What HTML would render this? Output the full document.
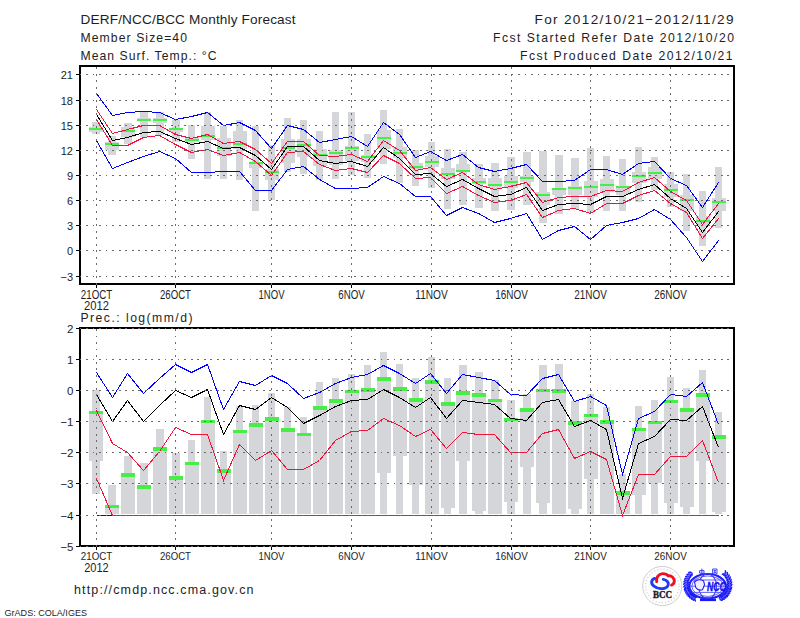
<!DOCTYPE html>
<html><head><meta charset="utf-8"><title>DERF/NCC/BCC Monthly Forecast</title>
<style>html,body{margin:0;padding:0;background:#fff;}svg{display:block;}</style>
</head><body>
<svg width="800" height="618" viewBox="0 0 800 618">
<rect width="800" height="618" fill="#fff"/>
<g shape-rendering="crispEdges">
<rect x="92" y="122" width="8" height="12" fill="#d5d6da"/>
<rect x="89" y="127" width="14" height="5" fill="#d5d6da"/>
<rect x="108" y="136" width="8" height="19" fill="#d5d6da"/>
<rect x="105" y="142" width="14" height="8" fill="#d5d6da"/>
<rect x="124" y="123" width="8" height="21" fill="#d5d6da"/>
<rect x="121" y="127" width="14" height="10" fill="#d5d6da"/>
<rect x="140" y="111" width="8" height="26" fill="#d5d6da"/>
<rect x="137" y="118" width="14" height="3" fill="#d5d6da"/>
<rect x="156" y="112" width="8" height="23" fill="#d5d6da"/>
<rect x="153" y="118" width="14" height="5" fill="#d5d6da"/>
<rect x="172" y="120" width="8" height="22" fill="#d5d6da"/>
<rect x="169" y="129" width="14" height="3" fill="#d5d6da"/>
<rect x="188" y="125" width="7" height="34" fill="#d5d6da"/>
<rect x="185" y="137" width="14" height="5" fill="#d5d6da"/>
<rect x="204" y="112" width="7" height="67" fill="#d5d6da"/>
<rect x="201" y="126" width="14" height="14" fill="#d5d6da"/>
<rect x="220" y="126" width="7" height="53" fill="#d5d6da"/>
<rect x="217" y="138" width="14" height="18" fill="#d5d6da"/>
<rect x="236" y="120" width="7" height="60" fill="#d5d6da"/>
<rect x="233" y="131" width="14" height="18" fill="#d5d6da"/>
<rect x="252" y="126" width="7" height="85" fill="#d5d6da"/>
<rect x="249" y="162" width="14" height="6" fill="#d5d6da"/>
<rect x="268" y="145" width="7" height="55" fill="#d5d6da"/>
<rect x="265" y="169" width="14" height="11" fill="#d5d6da"/>
<rect x="284" y="118" width="7" height="54" fill="#d5d6da"/>
<rect x="281" y="139" width="14" height="24" fill="#d5d6da"/>
<rect x="300" y="120" width="7" height="54" fill="#d5d6da"/>
<rect x="297" y="139" width="14" height="18" fill="#d5d6da"/>
<rect x="316" y="131" width="7" height="49" fill="#d5d6da"/>
<rect x="313" y="149" width="14" height="17" fill="#d5d6da"/>
<rect x="332" y="112" width="7" height="67" fill="#d5d6da"/>
<rect x="329" y="150" width="14" height="15" fill="#d5d6da"/>
<rect x="348" y="112" width="7" height="63" fill="#d5d6da"/>
<rect x="345" y="146" width="14" height="15" fill="#d5d6da"/>
<rect x="364" y="134" width="7" height="44" fill="#d5d6da"/>
<rect x="361" y="155" width="14" height="7" fill="#d5d6da"/>
<rect x="380" y="110" width="7" height="54" fill="#d5d6da"/>
<rect x="377" y="130" width="14" height="19" fill="#d5d6da"/>
<rect x="396" y="129" width="7" height="54" fill="#d5d6da"/>
<rect x="393" y="147" width="14" height="11" fill="#d5d6da"/>
<rect x="412" y="150" width="7" height="36" fill="#d5d6da"/>
<rect x="409" y="163" width="14" height="6" fill="#d5d6da"/>
<rect x="428" y="142" width="7" height="46" fill="#d5d6da"/>
<rect x="425" y="156" width="14" height="11" fill="#d5d6da"/>
<rect x="444" y="149" width="7" height="60" fill="#d5d6da"/>
<rect x="441" y="168" width="14" height="11" fill="#d5d6da"/>
<rect x="459" y="152" width="8" height="53" fill="#d5d6da"/>
<rect x="456" y="164" width="14" height="8" fill="#d5d6da"/>
<rect x="475" y="164" width="8" height="44" fill="#d5d6da"/>
<rect x="472" y="178" width="14" height="6" fill="#d5d6da"/>
<rect x="491" y="163" width="8" height="48" fill="#d5d6da"/>
<rect x="488" y="178" width="14" height="10" fill="#d5d6da"/>
<rect x="507" y="157" width="8" height="53" fill="#d5d6da"/>
<rect x="504" y="176" width="14" height="12" fill="#d5d6da"/>
<rect x="523" y="152" width="8" height="53" fill="#d5d6da"/>
<rect x="520" y="176" width="14" height="6" fill="#d5d6da"/>
<rect x="539" y="151" width="8" height="72" fill="#d5d6da"/>
<rect x="536" y="192" width="14" height="13" fill="#d5d6da"/>
<rect x="555" y="155" width="8" height="59" fill="#d5d6da"/>
<rect x="552" y="188" width="14" height="7" fill="#d5d6da"/>
<rect x="571" y="158" width="8" height="51" fill="#d5d6da"/>
<rect x="568" y="186" width="14" height="9" fill="#d5d6da"/>
<rect x="587" y="148" width="7" height="65" fill="#d5d6da"/>
<rect x="584" y="181" width="14" height="16" fill="#d5d6da"/>
<rect x="603" y="156" width="7" height="55" fill="#d5d6da"/>
<rect x="600" y="179" width="14" height="13" fill="#d5d6da"/>
<rect x="619" y="159" width="7" height="52" fill="#d5d6da"/>
<rect x="616" y="186" width="14" height="9" fill="#d5d6da"/>
<rect x="635" y="147" width="7" height="55" fill="#d5d6da"/>
<rect x="632" y="172" width="14" height="11" fill="#d5d6da"/>
<rect x="651" y="157" width="7" height="33" fill="#d5d6da"/>
<rect x="648" y="167" width="14" height="12" fill="#d5d6da"/>
<rect x="667" y="172" width="7" height="35" fill="#d5d6da"/>
<rect x="664" y="184" width="14" height="13" fill="#d5d6da"/>
<rect x="683" y="174" width="7" height="57" fill="#d5d6da"/>
<rect x="680" y="195" width="14" height="16" fill="#d5d6da"/>
<rect x="699" y="191" width="7" height="55" fill="#d5d6da"/>
<rect x="696" y="216" width="14" height="10" fill="#d5d6da"/>
<rect x="715" y="167" width="7" height="61" fill="#d5d6da"/>
<rect x="712" y="198" width="14" height="13" fill="#d5d6da"/>
<rect x="89" y="128" width="14" height="2" fill="#46ee46"/>
<rect x="105" y="143" width="14" height="2" fill="#46ee46"/>
<rect x="121" y="130" width="14" height="2" fill="#46ee46"/>
<rect x="137" y="119" width="14" height="2" fill="#46ee46"/>
<rect x="153" y="119" width="14" height="2" fill="#46ee46"/>
<rect x="169" y="128" width="14" height="2" fill="#46ee46"/>
<rect x="185" y="139" width="14" height="2" fill="#46ee46"/>
<rect x="201" y="135" width="14" height="2" fill="#46ee46"/>
<rect x="217" y="147" width="14" height="2" fill="#46ee46"/>
<rect x="233" y="143" width="14" height="2" fill="#46ee46"/>
<rect x="249" y="162" width="14" height="2" fill="#46ee46"/>
<rect x="265" y="171" width="14" height="2" fill="#46ee46"/>
<rect x="281" y="147" width="14" height="2" fill="#46ee46"/>
<rect x="297" y="144" width="14" height="2" fill="#46ee46"/>
<rect x="313" y="154" width="14" height="2" fill="#46ee46"/>
<rect x="329" y="152" width="14" height="2" fill="#46ee46"/>
<rect x="345" y="147" width="14" height="2" fill="#46ee46"/>
<rect x="361" y="156" width="14" height="2" fill="#46ee46"/>
<rect x="377" y="137" width="14" height="2" fill="#46ee46"/>
<rect x="393" y="152" width="14" height="2" fill="#46ee46"/>
<rect x="409" y="166" width="14" height="2" fill="#46ee46"/>
<rect x="425" y="161" width="14" height="2" fill="#46ee46"/>
<rect x="441" y="173" width="14" height="2" fill="#46ee46"/>
<rect x="456" y="170" width="14" height="2" fill="#46ee46"/>
<rect x="472" y="181" width="14" height="2" fill="#46ee46"/>
<rect x="488" y="184" width="14" height="2" fill="#46ee46"/>
<rect x="504" y="181" width="14" height="2" fill="#46ee46"/>
<rect x="520" y="177" width="14" height="2" fill="#46ee46"/>
<rect x="536" y="194" width="14" height="2" fill="#46ee46"/>
<rect x="552" y="188" width="14" height="2" fill="#46ee46"/>
<rect x="568" y="187" width="14" height="2" fill="#46ee46"/>
<rect x="584" y="186" width="14" height="2" fill="#46ee46"/>
<rect x="600" y="184" width="14" height="2" fill="#46ee46"/>
<rect x="616" y="186" width="14" height="2" fill="#46ee46"/>
<rect x="632" y="175" width="14" height="2" fill="#46ee46"/>
<rect x="648" y="172" width="14" height="2" fill="#46ee46"/>
<rect x="664" y="189" width="14" height="2" fill="#46ee46"/>
<rect x="680" y="199" width="14" height="2" fill="#46ee46"/>
<rect x="696" y="220" width="14" height="2" fill="#46ee46"/>
<rect x="712" y="201" width="14" height="2" fill="#46ee46"/>
<rect x="92" y="390" width="8" height="104" fill="#d5d6da"/>
<rect x="89" y="411" width="14" height="50" fill="#d5d6da"/>
<rect x="108" y="485" width="8" height="29" fill="#d5d6da"/>
<rect x="105" y="505" width="14" height="9" fill="#d5d6da"/>
<rect x="124" y="456" width="8" height="58" fill="#d5d6da"/>
<rect x="121" y="473" width="14" height="41" fill="#d5d6da"/>
<rect x="140" y="463" width="8" height="51" fill="#d5d6da"/>
<rect x="137" y="485" width="14" height="29" fill="#d5d6da"/>
<rect x="156" y="429" width="8" height="85" fill="#d5d6da"/>
<rect x="153" y="447" width="14" height="67" fill="#d5d6da"/>
<rect x="172" y="453" width="8" height="61" fill="#d5d6da"/>
<rect x="169" y="476" width="14" height="38" fill="#d5d6da"/>
<rect x="188" y="440" width="7" height="74" fill="#d5d6da"/>
<rect x="185" y="462" width="14" height="52" fill="#d5d6da"/>
<rect x="204" y="397" width="7" height="117" fill="#d5d6da"/>
<rect x="201" y="420" width="14" height="94" fill="#d5d6da"/>
<rect x="220" y="451" width="7" height="63" fill="#d5d6da"/>
<rect x="217" y="469" width="14" height="45" fill="#d5d6da"/>
<rect x="236" y="406" width="7" height="108" fill="#d5d6da"/>
<rect x="233" y="430" width="14" height="84" fill="#d5d6da"/>
<rect x="252" y="405" width="7" height="109" fill="#d5d6da"/>
<rect x="249" y="423" width="14" height="91" fill="#d5d6da"/>
<rect x="268" y="393" width="7" height="121" fill="#d5d6da"/>
<rect x="265" y="417" width="14" height="97" fill="#d5d6da"/>
<rect x="284" y="407" width="7" height="107" fill="#d5d6da"/>
<rect x="281" y="428" width="14" height="86" fill="#d5d6da"/>
<rect x="300" y="417" width="7" height="97" fill="#d5d6da"/>
<rect x="297" y="433" width="14" height="81" fill="#d5d6da"/>
<rect x="316" y="382" width="7" height="132" fill="#d5d6da"/>
<rect x="313" y="406" width="14" height="108" fill="#d5d6da"/>
<rect x="332" y="378" width="7" height="136" fill="#d5d6da"/>
<rect x="329" y="399" width="14" height="115" fill="#d5d6da"/>
<rect x="348" y="374" width="7" height="140" fill="#d5d6da"/>
<rect x="345" y="390" width="14" height="124" fill="#d5d6da"/>
<rect x="364" y="365" width="7" height="149" fill="#d5d6da"/>
<rect x="361" y="388" width="14" height="126" fill="#d5d6da"/>
<rect x="380" y="352" width="7" height="162" fill="#d5d6da"/>
<rect x="377" y="377" width="14" height="96" fill="#d5d6da"/>
<rect x="396" y="364" width="7" height="150" fill="#d5d6da"/>
<rect x="393" y="387" width="14" height="69" fill="#d5d6da"/>
<rect x="412" y="378" width="7" height="136" fill="#d5d6da"/>
<rect x="409" y="398" width="14" height="87" fill="#d5d6da"/>
<rect x="428" y="357" width="7" height="157" fill="#d5d6da"/>
<rect x="425" y="380" width="14" height="134" fill="#d5d6da"/>
<rect x="444" y="378" width="7" height="136" fill="#d5d6da"/>
<rect x="441" y="402" width="14" height="106" fill="#d5d6da"/>
<rect x="459" y="365" width="8" height="149" fill="#d5d6da"/>
<rect x="456" y="391" width="14" height="70" fill="#d5d6da"/>
<rect x="475" y="372" width="8" height="142" fill="#d5d6da"/>
<rect x="472" y="393" width="14" height="118" fill="#d5d6da"/>
<rect x="491" y="380" width="8" height="134" fill="#d5d6da"/>
<rect x="488" y="399" width="14" height="115" fill="#d5d6da"/>
<rect x="507" y="400" width="8" height="114" fill="#d5d6da"/>
<rect x="504" y="418" width="14" height="84" fill="#d5d6da"/>
<rect x="523" y="394" width="8" height="120" fill="#d5d6da"/>
<rect x="520" y="408" width="14" height="59" fill="#d5d6da"/>
<rect x="539" y="365" width="8" height="149" fill="#d5d6da"/>
<rect x="536" y="389" width="14" height="114" fill="#d5d6da"/>
<rect x="555" y="364" width="8" height="150" fill="#d5d6da"/>
<rect x="552" y="389" width="14" height="125" fill="#d5d6da"/>
<rect x="571" y="401" width="8" height="113" fill="#d5d6da"/>
<rect x="568" y="421" width="14" height="88" fill="#d5d6da"/>
<rect x="587" y="394" width="7" height="120" fill="#d5d6da"/>
<rect x="584" y="414" width="14" height="65" fill="#d5d6da"/>
<rect x="603" y="407" width="7" height="107" fill="#d5d6da"/>
<rect x="600" y="420" width="14" height="94" fill="#d5d6da"/>
<rect x="619" y="474" width="7" height="40" fill="#d5d6da"/>
<rect x="616" y="491" width="14" height="23" fill="#d5d6da"/>
<rect x="635" y="406" width="7" height="108" fill="#d5d6da"/>
<rect x="632" y="428" width="14" height="67" fill="#d5d6da"/>
<rect x="651" y="400" width="7" height="114" fill="#d5d6da"/>
<rect x="648" y="421" width="14" height="62" fill="#d5d6da"/>
<rect x="667" y="377" width="7" height="137" fill="#d5d6da"/>
<rect x="664" y="400" width="14" height="103" fill="#d5d6da"/>
<rect x="683" y="388" width="7" height="126" fill="#d5d6da"/>
<rect x="680" y="408" width="14" height="99" fill="#d5d6da"/>
<rect x="699" y="370" width="7" height="144" fill="#d5d6da"/>
<rect x="696" y="393" width="14" height="68" fill="#d5d6da"/>
<rect x="715" y="412" width="7" height="102" fill="#d5d6da"/>
<rect x="712" y="435" width="14" height="77" fill="#d5d6da"/>
<rect x="89" y="411" width="14" height="3" fill="#46ee46"/>
<rect x="105" y="505" width="14" height="3" fill="#46ee46"/>
<rect x="121" y="473" width="14" height="4" fill="#46ee46"/>
<rect x="137" y="485" width="14" height="4" fill="#46ee46"/>
<rect x="153" y="447" width="14" height="4" fill="#46ee46"/>
<rect x="169" y="476" width="14" height="4" fill="#46ee46"/>
<rect x="185" y="462" width="14" height="3" fill="#46ee46"/>
<rect x="201" y="420" width="14" height="3" fill="#46ee46"/>
<rect x="217" y="469" width="14" height="4" fill="#46ee46"/>
<rect x="233" y="430" width="14" height="3" fill="#46ee46"/>
<rect x="249" y="423" width="14" height="4" fill="#46ee46"/>
<rect x="265" y="417" width="14" height="4" fill="#46ee46"/>
<rect x="281" y="428" width="14" height="4" fill="#46ee46"/>
<rect x="297" y="433" width="14" height="3" fill="#46ee46"/>
<rect x="313" y="406" width="14" height="4" fill="#46ee46"/>
<rect x="329" y="399" width="14" height="4" fill="#46ee46"/>
<rect x="345" y="390" width="14" height="3" fill="#46ee46"/>
<rect x="361" y="388" width="14" height="4" fill="#46ee46"/>
<rect x="377" y="377" width="14" height="4" fill="#46ee46"/>
<rect x="393" y="387" width="14" height="4" fill="#46ee46"/>
<rect x="409" y="398" width="14" height="4" fill="#46ee46"/>
<rect x="425" y="380" width="14" height="4" fill="#46ee46"/>
<rect x="441" y="402" width="14" height="4" fill="#46ee46"/>
<rect x="456" y="391" width="14" height="4" fill="#46ee46"/>
<rect x="472" y="393" width="14" height="4" fill="#46ee46"/>
<rect x="488" y="399" width="14" height="3" fill="#46ee46"/>
<rect x="504" y="418" width="14" height="3" fill="#46ee46"/>
<rect x="520" y="408" width="14" height="4" fill="#46ee46"/>
<rect x="536" y="389" width="14" height="3" fill="#46ee46"/>
<rect x="552" y="389" width="14" height="4" fill="#46ee46"/>
<rect x="568" y="421" width="14" height="4" fill="#46ee46"/>
<rect x="584" y="414" width="14" height="3" fill="#46ee46"/>
<rect x="600" y="420" width="14" height="4" fill="#46ee46"/>
<rect x="616" y="491" width="14" height="4" fill="#46ee46"/>
<rect x="632" y="428" width="14" height="3" fill="#46ee46"/>
<rect x="648" y="421" width="14" height="3" fill="#46ee46"/>
<rect x="664" y="400" width="14" height="3" fill="#46ee46"/>
<rect x="680" y="408" width="14" height="4" fill="#46ee46"/>
<rect x="696" y="393" width="14" height="4" fill="#46ee46"/>
<rect x="712" y="435" width="14" height="4" fill="#46ee46"/>
</g>
<g shape-rendering="crispEdges">
<polyline points="96.5,93.5 112.5,115.5 127.5,112.5 143.5,111.5 159.5,112.5 175.5,119.5 191.5,116.5 207.5,112.5 223.5,125.5 239.5,122.5 255.5,130.5 271.5,148.5 287.5,125.5 303.5,129.5 319.5,142.5 335.5,139.5 351.5,136.5 367.5,146.5 383.5,122.5 399.5,134.5 415.5,157.5 430.5,151.5 446.5,160.5 462.5,154.5 478.5,167.5 494.5,171.5 510.5,168.5 526.5,164.5 542.5,181.5 558.5,181.5 574.5,180.5 590.5,169.5 606.5,169.5 622.5,174.5 638.5,163.5 654.5,161.5 670.5,178.5 686.5,185.5 702.5,207.5 718.5,182.5" fill="none" stroke="#0000ff" stroke-width="1"/>
<polyline points="96.5,140.5 112.5,168.5 127.5,162.5 143.5,156.5 159.5,151.5 175.5,158.5 191.5,172.5 207.5,172.5 223.5,171.5 239.5,171.5 255.5,190.5 271.5,190.5 287.5,169.5 303.5,166.5 319.5,179.5 335.5,188.5 351.5,188.5 367.5,187.5 383.5,176.5 399.5,183.5 415.5,196.5 430.5,196.5 446.5,215.5 462.5,207.5 478.5,213.5 494.5,222.5 510.5,218.5 526.5,213.5 542.5,239.5 558.5,230.5 574.5,226.5 590.5,239.5 606.5,225.5 622.5,222.5 638.5,218.5 654.5,209.5 670.5,219.5 686.5,237.5 702.5,261.5 718.5,240.5" fill="none" stroke="#0000ff" stroke-width="1"/>
<polyline points="96.5,109.5 112.5,133.5 127.5,129.5 143.5,125.5 159.5,125.5 175.5,134.5 191.5,138.5 207.5,134.5 223.5,143.5 239.5,141.5 255.5,149.5 271.5,163.5 287.5,141.5 303.5,141.5 319.5,155.5 335.5,156.5 351.5,154.5 367.5,161.5 383.5,140.5 399.5,150.5 415.5,170.5 430.5,167.5 446.5,179.5 462.5,172.5 478.5,184.5 494.5,189.5 510.5,186.5 526.5,182.5 542.5,202.5 558.5,197.5 574.5,196.5 590.5,196.5 606.5,190.5 622.5,191.5 638.5,182.5 654.5,177.5 670.5,191.5 686.5,200.5 702.5,224.5 718.5,203.5" fill="none" stroke="#f0143c" stroke-width="1"/>
<polyline points="96.5,119.5 112.5,145.5 127.5,145.5 143.5,137.5 159.5,135.5 175.5,144.5 191.5,152.5 207.5,149.5 223.5,155.5 239.5,152.5 255.5,161.5 271.5,175.5 287.5,152.5 303.5,151.5 319.5,164.5 335.5,170.5 351.5,168.5 367.5,172.5 383.5,155.5 399.5,163.5 415.5,178.5 430.5,177.5 446.5,193.5 462.5,186.5 478.5,195.5 494.5,202.5 510.5,200.5 526.5,194.5 542.5,217.5 558.5,210.5 574.5,208.5 590.5,213.5 606.5,203.5 622.5,203.5 638.5,195.5 654.5,190.5 670.5,203.5 686.5,212.5 702.5,238.5 718.5,218.5" fill="none" stroke="#f0143c" stroke-width="1"/>
<polyline points="96.5,114.5 112.5,140.5 127.5,137.5 143.5,132.5 159.5,131.5 175.5,138.5 191.5,144.5 207.5,141.5 223.5,148.5 239.5,147.5 255.5,155.5 271.5,169.5 287.5,146.5 303.5,146.5 319.5,160.5 335.5,163.5 351.5,161.5 367.5,166.5 383.5,147.5 399.5,158.5 415.5,174.5 430.5,173.5 446.5,186.5 462.5,179.5 478.5,188.5 494.5,196.5 510.5,194.5 526.5,187.5 542.5,210.5 558.5,204.5 574.5,203.5 590.5,204.5 606.5,196.5 622.5,196.5 638.5,189.5 654.5,184.5 670.5,198.5 686.5,208.5 702.5,232.5 718.5,211.5" fill="none" stroke="#000" stroke-width="1"/>
<polyline points="96.5,515.5 112.5,515.5 127.5,515.5 143.5,515.5 159.5,515.5 175.5,515.5 191.5,515.5 207.5,515.5 223.5,515.5 239.5,515.5 255.5,515.5 271.5,515.5 287.5,515.5 303.5,515.5 319.5,515.5 335.5,515.5 351.5,515.5 367.5,515.5 383.5,515.5 399.5,515.5 415.5,515.5 430.5,515.5 446.5,515.5 462.5,515.5 478.5,515.5 494.5,515.5 510.5,515.5 526.5,515.5 542.5,515.5 558.5,515.5 574.5,515.5 590.5,515.5 606.5,515.5 622.5,515.5 638.5,515.5 654.5,515.5 670.5,515.5 686.5,515.5 702.5,515.5 718.5,515.5" fill="none" stroke="#0000ff" stroke-width="1"/>
<polyline points="96.5,372.5 112.5,397.5 127.5,373.5 143.5,393.5 159.5,378.5 175.5,364.5 191.5,372.5 207.5,364.5 223.5,409.5 239.5,381.5 255.5,385.5 271.5,375.5 287.5,383.5 303.5,398.5 319.5,392.5 335.5,383.5 351.5,377.5 367.5,374.5 383.5,365.5 399.5,373.5 415.5,383.5 430.5,373.5 446.5,393.5 462.5,374.5 478.5,377.5 494.5,380.5 510.5,394.5 526.5,395.5 542.5,378.5 558.5,374.5 574.5,401.5 590.5,396.5 606.5,405.5 622.5,474.5 638.5,418.5 654.5,411.5 670.5,394.5 686.5,396.5 702.5,382.5 718.5,424.5" fill="none" stroke="#0000ff" stroke-width="1"/>
<polyline points="96.5,394.5 112.5,421.5 127.5,400.5 143.5,421.5 159.5,405.5 175.5,390.5 191.5,397.5 207.5,389.5 223.5,434.5 239.5,405.5 255.5,409.5 271.5,397.5 287.5,407.5 303.5,423.5 319.5,415.5 335.5,406.5 351.5,400.5 367.5,399.5 383.5,389.5 399.5,397.5 415.5,407.5 430.5,397.5 446.5,418.5 462.5,400.5 478.5,402.5 494.5,404.5 510.5,418.5 526.5,420.5 542.5,402.5 558.5,399.5 574.5,426.5 590.5,420.5 606.5,429.5 622.5,498.5 638.5,443.5 654.5,436.5 670.5,419.5 686.5,420.5 702.5,406.5 718.5,447.5" fill="none" stroke="#000" stroke-width="1"/>
<polyline points="96.5,410.5 112.5,443.5 127.5,452.5 143.5,470.5 159.5,451.5 175.5,427.5 191.5,434.5 207.5,434.5 223.5,480.5 239.5,444.5 255.5,460.5 271.5,450.5 287.5,469.5 303.5,469.5 319.5,460.5 335.5,440.5 351.5,431.5 367.5,430.5 383.5,418.5 399.5,425.5 415.5,436.5 430.5,429.5 446.5,448.5 462.5,432.5 478.5,434.5 494.5,434.5 510.5,452.5 526.5,452.5 542.5,433.5 558.5,429.5 574.5,458.5 590.5,451.5 606.5,459.5 622.5,515.5 638.5,474.5 654.5,474.5 670.5,456.5 686.5,456.5 702.5,440.5 718.5,482.5" fill="none" stroke="#f0143c" stroke-width="1"/>
<polyline points="96.5,478.5 112.5,515.5 127.5,515.5 143.5,515.5 159.5,515.5 175.5,515.5 191.5,515.5 207.5,515.5 223.5,515.5 239.5,515.5 255.5,515.5 271.5,515.5 287.5,515.5 303.5,515.5 319.5,515.5 335.5,515.5 351.5,515.5 367.5,515.5 383.5,515.5 399.5,515.5 415.5,515.5 430.5,515.5 446.5,515.5 462.5,515.5 478.5,515.5 494.5,515.5 510.5,515.5 526.5,515.5 542.5,515.5 558.5,515.5 574.5,515.5 590.5,515.5 606.5,515.5 622.5,515.5 638.5,515.5 654.5,515.5 670.5,515.5 686.5,515.5 702.5,515.5 718.5,515.5" fill="none" stroke="#f0143c" stroke-width="1"/>
</g>
<g shape-rendering="crispEdges" stroke="#000" fill="none">
<rect x="80" y="66" width="654" height="218" stroke-width="2"/>
<rect x="80" y="328" width="654" height="218" stroke-width="2"/>
<line x1="76" y1="74.5" x2="79" y2="74.5" stroke-width="1"/>
<line x1="76" y1="100.5" x2="79" y2="100.5" stroke-width="1"/>
<line x1="76" y1="125.5" x2="79" y2="125.5" stroke-width="1"/>
<line x1="76" y1="150.5" x2="79" y2="150.5" stroke-width="1"/>
<line x1="76" y1="175.5" x2="79" y2="175.5" stroke-width="1"/>
<line x1="76" y1="200.5" x2="79" y2="200.5" stroke-width="1"/>
<line x1="76" y1="225.5" x2="79" y2="225.5" stroke-width="1"/>
<line x1="76" y1="250.5" x2="79" y2="250.5" stroke-width="1"/>
<line x1="76" y1="276.5" x2="79" y2="276.5" stroke-width="1"/>
<line x1="76" y1="328.5" x2="79" y2="328.5" stroke-width="1"/>
<line x1="76" y1="359.5" x2="79" y2="359.5" stroke-width="1"/>
<line x1="76" y1="390.5" x2="79" y2="390.5" stroke-width="1"/>
<line x1="76" y1="421.5" x2="79" y2="421.5" stroke-width="1"/>
<line x1="76" y1="452.5" x2="79" y2="452.5" stroke-width="1"/>
<line x1="76" y1="483.5" x2="79" y2="483.5" stroke-width="1"/>
<line x1="76" y1="515.5" x2="79" y2="515.5" stroke-width="1"/>
<line x1="76" y1="546.5" x2="79" y2="546.5" stroke-width="1"/>
<line x1="96.5" y1="285" x2="96.5" y2="288" stroke-width="1"/>
<line x1="96.5" y1="547" x2="96.5" y2="550" stroke-width="1"/>
<line x1="175.5" y1="285" x2="175.5" y2="288" stroke-width="1"/>
<line x1="175.5" y1="547" x2="175.5" y2="550" stroke-width="1"/>
<line x1="271.5" y1="285" x2="271.5" y2="288" stroke-width="1"/>
<line x1="271.5" y1="547" x2="271.5" y2="550" stroke-width="1"/>
<line x1="351.5" y1="285" x2="351.5" y2="288" stroke-width="1"/>
<line x1="351.5" y1="547" x2="351.5" y2="550" stroke-width="1"/>
<line x1="431.5" y1="285" x2="431.5" y2="288" stroke-width="1"/>
<line x1="431.5" y1="547" x2="431.5" y2="550" stroke-width="1"/>
<line x1="511.5" y1="285" x2="511.5" y2="288" stroke-width="1"/>
<line x1="511.5" y1="547" x2="511.5" y2="550" stroke-width="1"/>
<line x1="590.5" y1="285" x2="590.5" y2="288" stroke-width="1"/>
<line x1="590.5" y1="547" x2="590.5" y2="550" stroke-width="1"/>
<line x1="670.5" y1="285" x2="670.5" y2="288" stroke-width="1"/>
<line x1="670.5" y1="547" x2="670.5" y2="550" stroke-width="1"/>
</g>
<g shape-rendering="crispEdges">
<line x1="79.5" y1="74.5" x2="734" y2="74.5" stroke="#6a6a6a" stroke-width="1" stroke-dasharray="1.8,4.745"/>
<line x1="79.5" y1="100.5" x2="734" y2="100.5" stroke="#6a6a6a" stroke-width="1" stroke-dasharray="1.8,4.745"/>
<line x1="79.5" y1="125.5" x2="734" y2="125.5" stroke="#6a6a6a" stroke-width="1" stroke-dasharray="1.8,4.745"/>
<line x1="79.5" y1="150.5" x2="734" y2="150.5" stroke="#6a6a6a" stroke-width="1" stroke-dasharray="1.8,4.745"/>
<line x1="79.5" y1="175.5" x2="734" y2="175.5" stroke="#6a6a6a" stroke-width="1" stroke-dasharray="1.8,4.745"/>
<line x1="79.5" y1="200.5" x2="734" y2="200.5" stroke="#6a6a6a" stroke-width="1" stroke-dasharray="1.8,4.745"/>
<line x1="79.5" y1="225.5" x2="734" y2="225.5" stroke="#6a6a6a" stroke-width="1" stroke-dasharray="1.8,4.745"/>
<line x1="79.5" y1="250.5" x2="734" y2="250.5" stroke="#6a6a6a" stroke-width="1" stroke-dasharray="1.8,4.745"/>
<line x1="79.5" y1="276.5" x2="734" y2="276.5" stroke="#6a6a6a" stroke-width="1" stroke-dasharray="1.8,4.745"/>
<line x1="96.5" y1="67" x2="96.5" y2="285" stroke="#6a6a6a" stroke-width="1" stroke-dasharray="2,4.545"/>
<line x1="175.5" y1="67" x2="175.5" y2="285" stroke="#6a6a6a" stroke-width="1" stroke-dasharray="2,4.545"/>
<line x1="271.5" y1="67" x2="271.5" y2="285" stroke="#6a6a6a" stroke-width="1" stroke-dasharray="2,4.545"/>
<line x1="351.5" y1="67" x2="351.5" y2="285" stroke="#6a6a6a" stroke-width="1" stroke-dasharray="2,4.545"/>
<line x1="431.5" y1="67" x2="431.5" y2="285" stroke="#6a6a6a" stroke-width="1" stroke-dasharray="2,4.545"/>
<line x1="511.5" y1="67" x2="511.5" y2="285" stroke="#6a6a6a" stroke-width="1" stroke-dasharray="2,4.545"/>
<line x1="590.5" y1="67" x2="590.5" y2="285" stroke="#6a6a6a" stroke-width="1" stroke-dasharray="2,4.545"/>
<line x1="670.5" y1="67" x2="670.5" y2="285" stroke="#6a6a6a" stroke-width="1" stroke-dasharray="2,4.545"/>
<line x1="79.5" y1="328.5" x2="734" y2="328.5" stroke="#6a6a6a" stroke-width="1" stroke-dasharray="1.8,4.745"/>
<line x1="79.5" y1="359.5" x2="734" y2="359.5" stroke="#6a6a6a" stroke-width="1" stroke-dasharray="1.8,4.745"/>
<line x1="79.5" y1="390.5" x2="734" y2="390.5" stroke="#6a6a6a" stroke-width="1" stroke-dasharray="1.8,4.745"/>
<line x1="79.5" y1="421.5" x2="734" y2="421.5" stroke="#6a6a6a" stroke-width="1" stroke-dasharray="1.8,4.745"/>
<line x1="79.5" y1="452.5" x2="734" y2="452.5" stroke="#6a6a6a" stroke-width="1" stroke-dasharray="1.8,4.745"/>
<line x1="79.5" y1="483.5" x2="734" y2="483.5" stroke="#6a6a6a" stroke-width="1" stroke-dasharray="1.8,4.745"/>
<line x1="79.5" y1="515.5" x2="734" y2="515.5" stroke="#6a6a6a" stroke-width="1" stroke-dasharray="1.8,4.745"/>
<line x1="79.5" y1="546.5" x2="734" y2="546.5" stroke="#6a6a6a" stroke-width="1" stroke-dasharray="1.8,4.745"/>
<line x1="96.5" y1="329" x2="96.5" y2="547" stroke="#6a6a6a" stroke-width="1" stroke-dasharray="1.8,4.745"/>
<line x1="175.5" y1="329" x2="175.5" y2="547" stroke="#6a6a6a" stroke-width="1" stroke-dasharray="1.8,4.745"/>
<line x1="271.5" y1="329" x2="271.5" y2="547" stroke="#6a6a6a" stroke-width="1" stroke-dasharray="1.8,4.745"/>
<line x1="351.5" y1="329" x2="351.5" y2="547" stroke="#6a6a6a" stroke-width="1" stroke-dasharray="1.8,4.745"/>
<line x1="431.5" y1="329" x2="431.5" y2="547" stroke="#6a6a6a" stroke-width="1" stroke-dasharray="1.8,4.745"/>
<line x1="511.5" y1="329" x2="511.5" y2="547" stroke="#6a6a6a" stroke-width="1" stroke-dasharray="1.8,4.745"/>
<line x1="590.5" y1="329" x2="590.5" y2="547" stroke="#6a6a6a" stroke-width="1" stroke-dasharray="1.8,4.745"/>
<line x1="670.5" y1="329" x2="670.5" y2="547" stroke="#6a6a6a" stroke-width="1" stroke-dasharray="1.8,4.745"/>
</g>
<g font-family='"Liberation Sans", sans-serif' fill="#1e1e1e">
<text x="80.5" y="24" font-size="13.6" text-anchor="start" textLength="215" lengthAdjust="spacing">DERF/NCC/BCC Monthly Forecast</text>
<text x="80.5" y="42" font-size="12.2" text-anchor="start" textLength="106.5" lengthAdjust="spacing">Member Size=40</text>
<text x="80.5" y="60" font-size="12.2" text-anchor="start" textLength="136" lengthAdjust="spacing">Mean Surf. Temp.: °C</text>
<text x="733.5" y="24" font-size="13.6" text-anchor="end" textLength="199" lengthAdjust="spacing">For 2012/10/21−2012/11/29</text>
<text x="734" y="42" font-size="12.2" text-anchor="end" textLength="241" lengthAdjust="spacing">Fcst Started Refer Date 2012/10/20</text>
<text x="732.5" y="60" font-size="12.2" text-anchor="end" textLength="212.5" lengthAdjust="spacing">Fcst Produced Date 2012/10/21</text>
<text x="73" y="79" font-size="11" text-anchor="end">21</text>
<text x="73" y="105" font-size="11" text-anchor="end">18</text>
<text x="73" y="130" font-size="11" text-anchor="end">15</text>
<text x="73" y="155" font-size="11" text-anchor="end">12</text>
<text x="73" y="180" font-size="11" text-anchor="end">9</text>
<text x="73" y="205" font-size="11" text-anchor="end">6</text>
<text x="73" y="230" font-size="11" text-anchor="end">3</text>
<text x="73" y="255" font-size="11" text-anchor="end">0</text>
<text x="73" y="281" font-size="11" text-anchor="end">−3</text>
<text x="73.5" y="333" font-size="11.5" text-anchor="end">2</text>
<text x="73.5" y="364" font-size="11.5" text-anchor="end">1</text>
<text x="73.5" y="395" font-size="11.5" text-anchor="end">0</text>
<text x="73.5" y="426" font-size="11.5" text-anchor="end">−1</text>
<text x="73.5" y="457" font-size="11.5" text-anchor="end">−2</text>
<text x="73.5" y="488" font-size="11.5" text-anchor="end">−3</text>
<text x="73.5" y="520" font-size="11.5" text-anchor="end">−4</text>
<text x="73.5" y="551" font-size="11.5" text-anchor="end">−5</text>
<text x="96.5" y="299" font-size="12" text-anchor="middle" textLength="31.4" lengthAdjust="spacingAndGlyphs">21OCT</text>
<text x="96.5" y="560" font-size="11" text-anchor="middle" textLength="31.4" lengthAdjust="spacingAndGlyphs">21OCT</text>
<text x="175.5" y="299" font-size="12" text-anchor="middle" textLength="31" lengthAdjust="spacingAndGlyphs">26OCT</text>
<text x="175.5" y="560" font-size="11" text-anchor="middle" textLength="31" lengthAdjust="spacingAndGlyphs">26OCT</text>
<text x="271.5" y="299" font-size="12" text-anchor="middle" textLength="26" lengthAdjust="spacingAndGlyphs">1NOV</text>
<text x="271.5" y="560" font-size="11" text-anchor="middle" textLength="26" lengthAdjust="spacingAndGlyphs">1NOV</text>
<text x="351.5" y="299" font-size="12" text-anchor="middle" textLength="26.5" lengthAdjust="spacingAndGlyphs">6NOV</text>
<text x="351.5" y="560" font-size="11" text-anchor="middle" textLength="26.5" lengthAdjust="spacingAndGlyphs">6NOV</text>
<text x="431.5" y="299" font-size="12" text-anchor="middle" textLength="32.5" lengthAdjust="spacingAndGlyphs">11NOV</text>
<text x="431.5" y="560" font-size="11" text-anchor="middle" textLength="32.5" lengthAdjust="spacingAndGlyphs">11NOV</text>
<text x="511.5" y="299" font-size="12" text-anchor="middle" textLength="32.5" lengthAdjust="spacingAndGlyphs">16NOV</text>
<text x="511.5" y="560" font-size="11" text-anchor="middle" textLength="32.5" lengthAdjust="spacingAndGlyphs">16NOV</text>
<text x="590.5" y="299" font-size="12" text-anchor="middle" textLength="32.5" lengthAdjust="spacingAndGlyphs">21NOV</text>
<text x="590.5" y="560" font-size="11" text-anchor="middle" textLength="32.5" lengthAdjust="spacingAndGlyphs">21NOV</text>
<text x="670.5" y="299" font-size="12" text-anchor="middle" textLength="32.5" lengthAdjust="spacingAndGlyphs">26NOV</text>
<text x="670.5" y="560" font-size="11" text-anchor="middle" textLength="32.5" lengthAdjust="spacingAndGlyphs">26NOV</text>
<text x="96.5" y="310" font-size="12" text-anchor="middle" textLength="25" lengthAdjust="spacingAndGlyphs">2012</text>
<text x="96.5" y="572" font-size="12" text-anchor="middle" textLength="24.5" lengthAdjust="spacingAndGlyphs">2012</text>
<text x="80.5" y="322" font-size="12.2" text-anchor="start" textLength="112" lengthAdjust="spacing">Prec.: log(mm/d)</text>
<text x="74" y="594" font-size="12.5" text-anchor="start" textLength="179.5" lengthAdjust="spacing">http://cmdp.ncc.cma.gov.cn</text>
<text x="4.5" y="616" font-size="9.6" text-anchor="start" textLength="82.5" lengthAdjust="spacingAndGlyphs">GrADS: COLA/IGES</text>
</g>
<g>
<circle cx="662.3" cy="586" r="19.6" fill="none" stroke="#cfcfcf" stroke-width="1"/>
<circle cx="662.3" cy="586" r="16.8" fill="none" stroke="#b8b8b8" stroke-width="1.4" stroke-dasharray="1,2.2" opacity="0.7"/>
<path d="M656.7,581.6 C655.8,577 659.3,573.6 662.8,573.6 C665.6,573.6 667.4,574.6 668.3,575.9 C671.6,575.3 674.6,578.2 674.3,581.4 C674.1,583.3 673,584.5 671.6,585.1" fill="none" stroke="#ee1020" stroke-width="2.9" stroke-linecap="round"/>
<path d="M654.6,578.4 C651.2,579.6 650.6,583.4 653.6,585.8 C656.8,588.4 661.8,589.2 665,588.1 C668.4,586.9 669.1,583.6 667.6,581.8 C666.4,580.3 664.9,579.6 663.3,579.4" fill="none" stroke="#1e3cf4" stroke-width="2.9" stroke-linecap="round"/>
<text x="662.6" y="598" font-family='"Liberation Serif", serif' font-weight="bold" font-size="10.4" text-anchor="middle" textLength="19" lengthAdjust="spacingAndGlyphs" fill="#1c1c2a" stroke="#1c1c2a" stroke-width="0.45">BCC</text>
<path d="M691.50,573.00 L691.15,573.29 L690.80,573.59 L690.47,573.89 L690.15,574.21 L689.85,574.53 L689.55,574.86 L689.27,575.20 L688.99,575.55 L688.73,575.90 L688.48,576.26 L688.25,576.62 L688.02,576.99 L687.81,577.37 L687.61,577.75 L687.42,578.14 L687.24,578.53 L687.08,578.93 L686.92,579.33 L686.78,579.74 L686.65,580.15 L686.53,580.56 L686.43,580.98 L686.33,581.40 L686.25,581.83 L686.18,582.25 L686.12,582.68 L686.08,583.11 L686.05,583.55 L686.02,583.98 L686.02,584.42 L686.02,584.86 L686.03,585.29 L686.06,585.73 L686.10,586.17 L686.15,586.61 L686.22,587.05 L686.30,587.49 L686.38,587.93 L686.49,588.36 L686.60,588.80" fill="none" stroke="#1a1af8" stroke-width="0.9"/>
<ellipse cx="691.93" cy="574.59" rx="2" ry="0.85" transform="rotate(98.4 691.93 574.59)" fill="#1a1af8"/>
<ellipse cx="689.94" cy="572.35" rx="2" ry="0.85" transform="rotate(178.4 689.94 572.35)" fill="#1a1af8"/>
<ellipse cx="690.47" cy="576.10" rx="2" ry="0.85" transform="rotate(89.1 690.47 576.10)" fill="#1a1af8"/>
<ellipse cx="688.14" cy="574.21" rx="2" ry="0.85" transform="rotate(169.1 688.14 574.21)" fill="#1a1af8"/>
<ellipse cx="689.30" cy="577.78" rx="2" ry="0.85" transform="rotate(79.8 689.30 577.78)" fill="#1a1af8"/>
<ellipse cx="686.70" cy="576.29" rx="2" ry="0.85" transform="rotate(159.8 686.70 576.29)" fill="#1a1af8"/>
<ellipse cx="688.42" cy="579.61" rx="2" ry="0.85" transform="rotate(70.8 688.42 579.61)" fill="#1a1af8"/>
<ellipse cx="685.61" cy="578.55" rx="2" ry="0.85" transform="rotate(150.8 685.61 578.55)" fill="#1a1af8"/>
<ellipse cx="687.83" cy="581.56" rx="2" ry="0.85" transform="rotate(62.0 687.83 581.56)" fill="#1a1af8"/>
<ellipse cx="684.90" cy="580.93" rx="2" ry="0.85" transform="rotate(142.0 684.90 580.93)" fill="#1a1af8"/>
<ellipse cx="687.55" cy="583.59" rx="2" ry="0.85" transform="rotate(53.4 687.55 583.59)" fill="#1a1af8"/>
<ellipse cx="684.55" cy="583.41" rx="2" ry="0.85" transform="rotate(133.4 684.55 583.41)" fill="#1a1af8"/>
<ellipse cx="687.56" cy="585.67" rx="2" ry="0.85" transform="rotate(45.1 687.56 585.67)" fill="#1a1af8"/>
<ellipse cx="684.57" cy="585.93" rx="2" ry="0.85" transform="rotate(125.1 684.57 585.93)" fill="#1a1af8"/>
<ellipse cx="687.88" cy="587.76" rx="2" ry="0.85" transform="rotate(36.8 687.88 587.76)" fill="#1a1af8"/>
<ellipse cx="684.96" cy="588.45" rx="2" ry="0.85" transform="rotate(116.8 684.96 588.45)" fill="#1a1af8"/>
<path d="M686.60,588.80 L686.71,589.17 L686.82,589.54 L686.95,589.89 L687.07,590.25 L687.21,590.59 L687.35,590.93 L687.50,591.26 L687.65,591.59 L687.82,591.91 L687.98,592.22 L688.16,592.52 L688.34,592.82 L688.53,593.12 L688.72,593.41 L688.92,593.69 L689.13,593.96 L689.35,594.23 L689.57,594.49 L689.79,594.75 L690.03,595.00 L690.26,595.24 L690.51,595.48 L690.76,595.72 L691.02,595.94 L691.29,596.16 L691.56,596.38 L691.83,596.59 L692.12,596.79 L692.41,596.99 L692.70,597.18 L693.01,597.37 L693.31,597.55 L693.63,597.72 L693.95,597.89 L694.28,598.06 L694.61,598.22 L694.95,598.37 L695.29,598.52 L695.64,598.66 L696.00,598.80" fill="none" stroke="#1a1af8" stroke-width="0.9"/>
<ellipse cx="688.20" cy="588.93" rx="2" ry="0.85" transform="rotate(32.1 688.20 588.93)" fill="#1a1af8"/>
<ellipse cx="685.35" cy="589.85" rx="2" ry="0.85" transform="rotate(112.1 685.35 589.85)" fill="#1a1af8"/>
<ellipse cx="688.84" cy="590.58" rx="2" ry="0.85" transform="rotate(25.1 688.84 590.58)" fill="#1a1af8"/>
<ellipse cx="686.12" cy="591.85" rx="2" ry="0.85" transform="rotate(105.1 686.12 591.85)" fill="#1a1af8"/>
<ellipse cx="689.63" cy="592.06" rx="2" ry="0.85" transform="rotate(17.6 689.63 592.06)" fill="#1a1af8"/>
<ellipse cx="687.09" cy="593.66" rx="2" ry="0.85" transform="rotate(97.6 687.09 593.66)" fill="#1a1af8"/>
<ellipse cx="690.57" cy="593.36" rx="2" ry="0.85" transform="rotate(9.9 690.57 593.36)" fill="#1a1af8"/>
<ellipse cx="688.28" cy="595.29" rx="2" ry="0.85" transform="rotate(89.9 688.28 595.29)" fill="#1a1af8"/>
<ellipse cx="691.68" cy="594.52" rx="2" ry="0.85" transform="rotate(2.2 691.68 594.52)" fill="#1a1af8"/>
<ellipse cx="689.66" cy="596.74" rx="2" ry="0.85" transform="rotate(82.2 689.66 596.74)" fill="#1a1af8"/>
<ellipse cx="692.94" cy="595.54" rx="2" ry="0.85" transform="rotate(-5.1 692.94 595.54)" fill="#1a1af8"/>
<ellipse cx="691.23" cy="598.00" rx="2" ry="0.85" transform="rotate(74.9 691.23 598.00)" fill="#1a1af8"/>
<ellipse cx="694.38" cy="596.43" rx="2" ry="0.85" transform="rotate(-11.9 694.38 596.43)" fill="#1a1af8"/>
<ellipse cx="692.97" cy="599.07" rx="2" ry="0.85" transform="rotate(68.1 692.97 599.07)" fill="#1a1af8"/>
<ellipse cx="695.99" cy="597.19" rx="2" ry="0.85" transform="rotate(-18.0 695.99 597.19)" fill="#1a1af8"/>
<ellipse cx="694.87" cy="599.97" rx="2" ry="0.85" transform="rotate(62.0 694.87 599.97)" fill="#1a1af8"/>
<path d="M724.00,572.60 L724.35,572.89 L724.70,573.19 L725.03,573.49 L725.35,573.81 L725.66,574.13 L725.96,574.46 L726.24,574.80 L726.52,575.15 L726.78,575.50 L727.03,575.86 L727.28,576.22 L727.50,576.59 L727.72,576.97 L727.93,577.35 L728.12,577.74 L728.31,578.13 L728.48,578.53 L728.64,578.93 L728.79,579.34 L728.92,579.75 L729.05,580.16 L729.16,580.58 L729.27,581.00 L729.36,581.43 L729.44,581.85 L729.50,582.28 L729.56,582.71 L729.60,583.15 L729.63,583.58 L729.65,584.02 L729.66,584.46 L729.66,584.89 L729.64,585.33 L729.61,585.77 L729.58,586.21 L729.52,586.65 L729.46,587.09 L729.39,587.53 L729.30,587.96 L729.20,588.40" fill="none" stroke="#1a1af8" stroke-width="0.9"/>
<ellipse cx="725.56" cy="571.94" rx="2" ry="0.85" transform="rotate(81.5 725.56 571.94)" fill="#1a1af8"/>
<ellipse cx="723.57" cy="574.19" rx="2" ry="0.85" transform="rotate(1.5 723.57 574.19)" fill="#1a1af8"/>
<ellipse cx="727.36" cy="573.80" rx="2" ry="0.85" transform="rotate(90.7 727.36 573.80)" fill="#1a1af8"/>
<ellipse cx="725.04" cy="575.70" rx="2" ry="0.85" transform="rotate(10.7 725.04 575.70)" fill="#1a1af8"/>
<ellipse cx="728.82" cy="575.88" rx="2" ry="0.85" transform="rotate(99.7 728.82 575.88)" fill="#1a1af8"/>
<ellipse cx="726.24" cy="577.39" rx="2" ry="0.85" transform="rotate(19.7 726.24 577.39)" fill="#1a1af8"/>
<ellipse cx="729.93" cy="578.13" rx="2" ry="0.85" transform="rotate(108.4 729.93 578.13)" fill="#1a1af8"/>
<ellipse cx="727.15" cy="579.23" rx="2" ry="0.85" transform="rotate(28.4 727.15 579.23)" fill="#1a1af8"/>
<ellipse cx="730.69" cy="580.51" rx="2" ry="0.85" transform="rotate(116.9 730.69 580.51)" fill="#1a1af8"/>
<ellipse cx="727.77" cy="581.19" rx="2" ry="0.85" transform="rotate(36.9 727.77 581.19)" fill="#1a1af8"/>
<ellipse cx="731.09" cy="582.97" rx="2" ry="0.85" transform="rotate(125.2 731.09 582.97)" fill="#1a1af8"/>
<ellipse cx="728.10" cy="583.22" rx="2" ry="0.85" transform="rotate(45.2 728.10 583.22)" fill="#1a1af8"/>
<ellipse cx="731.14" cy="585.48" rx="2" ry="0.85" transform="rotate(133.3 731.14 585.48)" fill="#1a1af8"/>
<ellipse cx="728.14" cy="585.31" rx="2" ry="0.85" transform="rotate(53.3 728.14 585.31)" fill="#1a1af8"/>
<ellipse cx="730.82" cy="588.00" rx="2" ry="0.85" transform="rotate(141.4 730.82 588.00)" fill="#1a1af8"/>
<ellipse cx="727.88" cy="587.41" rx="2" ry="0.85" transform="rotate(61.4 727.88 587.41)" fill="#1a1af8"/>
<path d="M729.20,588.40 L729.10,588.79 L728.99,589.17 L728.87,589.54 L728.75,589.91 L728.62,590.27 L728.48,590.62 L728.34,590.97 L728.19,591.31 L728.03,591.64 L727.86,591.97 L727.69,592.29 L727.51,592.60 L727.32,592.91 L727.13,593.21 L726.93,593.50 L726.72,593.79 L726.51,594.07 L726.29,594.34 L726.07,594.61 L725.84,594.88 L725.60,595.13 L725.36,595.38 L725.11,595.62 L724.85,595.86 L724.59,596.09 L724.32,596.31 L724.05,596.53 L723.77,596.74 L723.49,596.95 L723.20,597.15 L722.90,597.34 L722.60,597.53 L722.29,597.71 L721.98,597.88 L721.66,598.05 L721.34,598.21 L721.01,598.37 L720.68,598.52 L720.34,598.66 L720.00,598.80" fill="none" stroke="#1a1af8" stroke-width="0.9"/>
<ellipse cx="730.47" cy="589.44" rx="2" ry="0.85" transform="rotate(146.4 730.47 589.44)" fill="#1a1af8"/>
<ellipse cx="727.60" cy="588.59" rx="2" ry="0.85" transform="rotate(66.4 727.60 588.59)" fill="#1a1af8"/>
<ellipse cx="729.73" cy="591.51" rx="2" ry="0.85" transform="rotate(153.5 729.73 591.51)" fill="#1a1af8"/>
<ellipse cx="726.98" cy="590.32" rx="2" ry="0.85" transform="rotate(73.5 726.98 590.32)" fill="#1a1af8"/>
<ellipse cx="728.77" cy="593.41" rx="2" ry="0.85" transform="rotate(161.0 728.77 593.41)" fill="#1a1af8"/>
<ellipse cx="726.20" cy="591.86" rx="2" ry="0.85" transform="rotate(81.0 726.20 591.86)" fill="#1a1af8"/>
<ellipse cx="727.60" cy="595.11" rx="2" ry="0.85" transform="rotate(168.6 727.60 595.11)" fill="#1a1af8"/>
<ellipse cx="725.26" cy="593.24" rx="2" ry="0.85" transform="rotate(88.6 725.26 593.24)" fill="#1a1af8"/>
<ellipse cx="726.24" cy="596.62" rx="2" ry="0.85" transform="rotate(176.3 726.24 596.62)" fill="#1a1af8"/>
<ellipse cx="724.16" cy="594.45" rx="2" ry="0.85" transform="rotate(96.3 724.16 594.45)" fill="#1a1af8"/>
<ellipse cx="724.69" cy="597.93" rx="2" ry="0.85" transform="rotate(183.6 724.69 597.93)" fill="#1a1af8"/>
<ellipse cx="722.91" cy="595.51" rx="2" ry="0.85" transform="rotate(103.6 722.91 595.51)" fill="#1a1af8"/>
<ellipse cx="722.98" cy="599.04" rx="2" ry="0.85" transform="rotate(190.6 722.98 599.04)" fill="#1a1af8"/>
<ellipse cx="721.51" cy="596.43" rx="2" ry="0.85" transform="rotate(110.6 721.51 596.43)" fill="#1a1af8"/>
<ellipse cx="721.13" cy="599.96" rx="2" ry="0.85" transform="rotate(197.0 721.13 599.96)" fill="#1a1af8"/>
<ellipse cx="719.96" cy="597.20" rx="2" ry="0.85" transform="rotate(117.0 719.96 597.20)" fill="#1a1af8"/>
<path d="M700,599.8 L716,599.8" stroke="#1a1af8" stroke-width="2.6"/>
<ellipse cx="707.6" cy="586.2" rx="18.3" ry="12.2" fill="none" stroke="#1e1ef8" stroke-width="2.2"/>
<ellipse cx="707.6" cy="586.2" rx="15.8" ry="10.2" fill="none" stroke="#4040f8" stroke-width="0.8"/>
<ellipse cx="707.6" cy="586.2" rx="9" ry="12.2" fill="none" stroke="#3a3af8" stroke-width="1.1"/>
<path d="M690,586.2 L725,586.2 M692,580 L723,580 M692,592.4 L723,592.4" stroke="#4a4af8" stroke-width="0.9"/>
<path d="M694.5,582 C697,579.5 701,579.6 703.5,580.8 L704.6,584.5 L702.5,589.8 C699.8,590.6 697.2,589.6 695.8,587.6 Z" fill="#eeeeff" stroke="#2020f8" stroke-width="1.1"/>
<text x="716.3" y="591.2" font-family='"Liberation Sans", sans-serif' font-weight="bold" font-style="italic" font-size="13.7" text-anchor="middle" textLength="18.8" lengthAdjust="spacingAndGlyphs" fill="#1414f0" stroke="#1414f0" stroke-width="0.5">NCC</text>
<path d="M699.6,570.6 h4.4 v2.6 h-4.4 z M701.8,568.6 v6.4 M712.6,569 h4.4 v5 h-4.4 z M713.6,570.6 h2.4 M713.6,572.4 h2.4 M714.8,570.6 v1.8" stroke="#3030f0" stroke-width="0.9" fill="none"/>
</g>
</svg>
</body></html>
